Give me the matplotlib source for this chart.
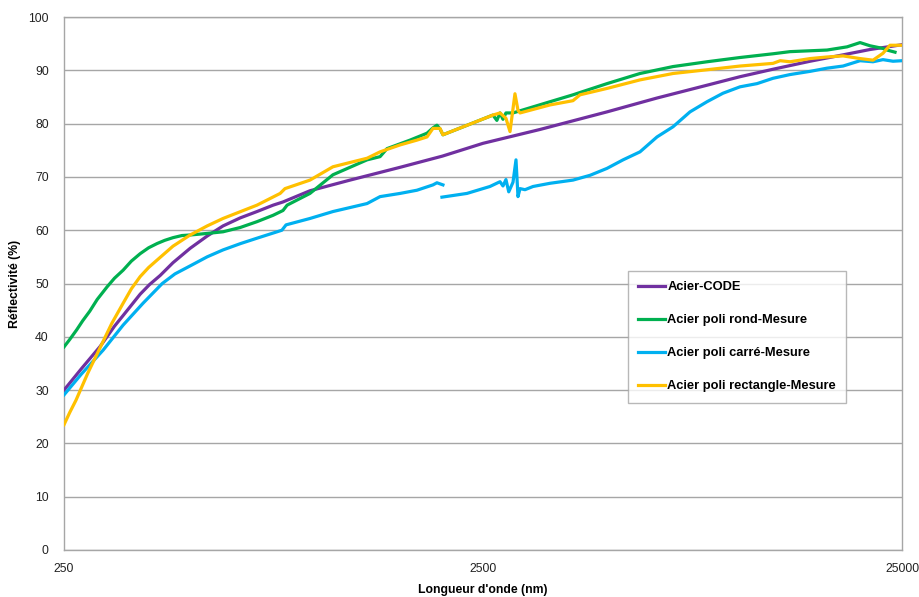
import matplotlib
matplotlib.use('Agg')
import matplotlib.pyplot as plt
import numpy as np

FONT = ['Liberation Sans', 'DejaVu Sans']
FONT_SIZE = 8.8

# wavelengths (nm) / reflectivity (%)
code_nm = [250, 275, 305, 330, 346, 380, 400, 424, 455, 500, 549, 599, 658, 722, 789, 833,
           966, 1204, 1585, 2000, 2500, 3420, 4942, 6505, 8560, 10265, 12306, 15085, 18085,
           20970, 25000]
code_val = [30.0, 34.0, 38.2, 42.0, 44.0, 48.0, 49.8, 51.5, 53.9, 56.6, 58.9, 60.8, 62.3,
            63.5, 64.7, 65.3, 67.4, 69.4, 71.8, 73.9, 76.3, 78.9, 82.2, 84.8, 87.2, 88.8,
            90.2, 91.7, 92.9, 93.9, 94.8]

rond_nm = [250, 258, 268, 277, 288, 300, 317, 330, 346, 362, 380, 398, 417, 435, 455, 478,
           500, 550, 599, 658, 722, 789, 833, 852, 966, 1096, 1322, 1420, 1475, 1674, 1838,
           1899, 1941, 1974, 2006, 2640, 2698, 2745, 2790, 2836, 2948, 3612, 4099, 4942,
           5924, 7102, 8560, 10265, 12306, 13510, 16560, 18485, 19855, 20970, 22520, 23020,
           24060]
rond_val = [38.1, 39.5, 41.3, 43.0, 44.8, 47.0, 49.4, 51.0, 52.5, 54.2, 55.6, 56.7, 57.5,
            58.1, 58.6, 59.0, 59.1, 59.4, 59.7, 60.5, 61.6, 62.8, 63.7, 64.7, 66.9, 70.4,
            73.2, 73.8, 75.3, 76.9, 78.2, 79.2, 79.7, 79.0, 77.9, 81.6, 80.6, 82.0, 80.8,
            82.0, 82.0, 84.1, 85.4, 87.5, 89.4, 90.7, 91.6, 92.4, 93.1, 93.5, 93.8, 94.4,
            95.2, 94.6, 94.1, 93.8, 93.4]

carre1_nm = [250, 275, 310, 346, 386, 429, 460, 500, 549, 599, 660, 722, 806, 828, 847, 966,
             1096, 1322, 1420, 1585, 1739, 1899, 1941, 2006]
carre1_val = [29.1, 33.0, 37.5, 42.2, 46.3, 50.0, 51.8, 53.3, 55.0, 56.3, 57.5, 58.5, 59.7,
              60.0, 61.0, 62.2, 63.5, 65.0, 66.3, 66.9, 67.5, 68.5, 68.9, 68.5]
carre2_nm = [1995, 2289, 2597, 2745, 2790, 2836, 2880, 2948, 2997, 3030, 3064, 3149, 3291,
             3612, 4099, 4502, 4942, 5398, 5924, 6505, 7102, 7798, 8560, 9348, 10265, 11270,
             12306, 13510, 15085, 16560, 18085, 19855, 21320, 22520, 23795, 25000]
carre2_val = [66.2, 66.9, 68.2, 69.1, 68.3, 69.5, 67.2, 69.0, 73.2, 66.3, 67.8, 67.6, 68.2,
              68.8, 69.4, 70.3, 71.6, 73.2, 74.7, 77.5, 79.4, 82.2, 84.1, 85.7, 86.9, 87.5,
              88.5, 89.2, 89.8, 90.4, 90.8, 91.8, 91.6, 92.0, 91.7, 91.8]

rect_nm = [250, 258, 267, 285, 305, 325, 346, 362, 380, 398, 417, 455, 500, 549, 599, 660,
           722, 820, 842, 966, 1096, 1322, 1420, 1585, 1739, 1838, 1899, 1974, 2006, 2640,
           2745, 2836, 2900, 2980, 3030, 3064, 3612, 4099, 4260, 4942, 5924, 7102, 8560,
           10265, 12306, 12800, 13510, 15085, 16560, 18085, 19855, 21320, 22520, 23400, 25000]
rect_val = [23.5, 25.8, 28.1, 33.2, 38.0, 42.5, 46.3, 49.0, 51.3, 53.0, 54.4, 57.0, 59.1,
            60.8, 62.2, 63.5, 64.7, 66.9, 67.8, 69.4, 71.9, 73.5, 74.7, 76.0, 76.9, 77.5,
            79.1, 79.1, 77.9, 81.6, 82.0, 81.0, 78.5, 85.6, 82.5, 82.0, 83.5, 84.3, 85.4,
            86.6, 88.2, 89.4, 90.1, 90.8, 91.3, 91.8, 91.6, 92.2, 92.5, 92.7, 92.2, 91.9,
            93.2, 94.7, 94.7]

LABELS = ['Acier-CODE', 'Acier poli rond-Mesure', 'Acier poli carré-Mesure',
          'Acier poli rectangle-Mesure']
COLORS = ['#7030A0', '#00B050', '#00B0F0', '#FFC000']


def main():
    plt.rcParams['font.family'] = FONT
    fig = plt.figure(figsize=(9.19, 5.97), dpi=100)
    ax = fig.add_axes([64 / 919, 47 / 597, 838 / 919, 533 / 597])
    lw = 2.3

    ax.plot(code_nm, code_val, color=COLORS[0], lw=lw, label=LABELS[0], zorder=3)
    ax.plot(rond_nm, rond_val, color=COLORS[1], lw=lw, label=LABELS[1], zorder=3)
    ax.plot(carre1_nm, carre1_val, color=COLORS[2], lw=lw, label=LABELS[2], zorder=3)
    ax.plot(carre2_nm, carre2_val, color=COLORS[2], lw=lw, zorder=3)
    ax.plot(rect_nm, rect_val, color=COLORS[3], lw=lw, label=LABELS[3], zorder=3)

    ax.set_xscale('log')
    ax.set_xlim(250, 25000)
    ax.set_ylim(0, 100)
    ax.set_xticks([250, 2500, 25000])
    ax.set_xticklabels(['250', '2500', '25000'])
    ax.xaxis.set_minor_locator(matplotlib.ticker.NullLocator())
    ax.set_yticks(np.arange(0, 101, 10))
    ax.grid(axis='y', color='#A6A6A6', lw=1)
    ax.set_axisbelow(True)
    ax.tick_params(axis='both', length=0, labelsize=FONT_SIZE, colors='#222222')
    ax.tick_params(axis='x', pad=9)
    ax.tick_params(axis='y', pad=11)
    for s in ax.spines.values():
        s.set_color('#A6A6A6')
        s.set_linewidth(1)

    ax.set_xlabel("Longueur d'onde (nm)", fontsize=FONT_SIZE, fontweight='bold', labelpad=7)
    ax.set_ylabel('Réflectivité (%)', fontsize=FONT_SIZE, fontweight='bold', labelpad=5)

    leg = ax.legend(loc='upper left', bbox_to_anchor=(0.673, 0.5235),
                    prop={'weight': 'bold', 'size': 9.3}, frameon=True, fancybox=False,
                    handlelength=2.1, handletextpad=0.15, labelspacing=1.62,
                    borderpad=0.8, borderaxespad=0)
    leg.get_frame().set_edgecolor('#A6A6A6')
    leg.get_frame().set_linewidth(1)

    fig.savefig('out.png', dpi=100)


if __name__ == '__main__':
    main()
